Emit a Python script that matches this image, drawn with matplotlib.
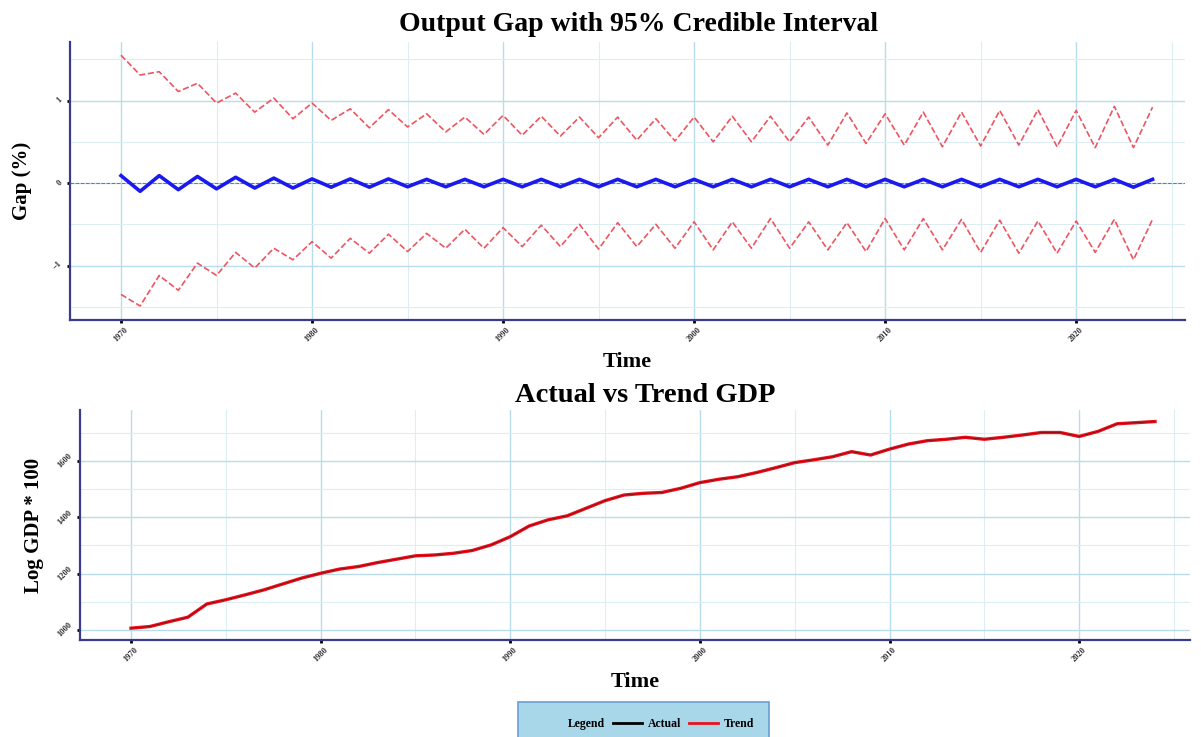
import numpy as np
import matplotlib
matplotlib.use('Agg')
import matplotlib.pyplot as plt
from matplotlib.lines import Line2D
from matplotlib.ticker import MultipleLocator

# data
years = list(range(1970, 2025))

gap = [0.09, -0.10, 0.09, -0.08, 0.08, -0.07, 0.07, -0.06, 0.06, -0.06,
       0.05, -0.05, 0.05, -0.05, 0.05, -0.045, 0.045, -0.045, 0.045, -0.045,
       0.045, -0.045, 0.045, -0.045, 0.045, -0.045, 0.045, -0.045, 0.045, -0.045,
       0.045, -0.045, 0.045, -0.045, 0.045, -0.045, 0.045, -0.045, 0.045, -0.045,
       0.045, -0.045, 0.045, -0.045, 0.045, -0.045, 0.045, -0.045, 0.045, -0.045,
       0.045, -0.045, 0.045, -0.05, 0.045]

upper = [1.55, 1.31, 1.35, 1.11, 1.21, 0.97, 1.09, 0.86, 1.03, 0.78,
         0.97, 0.76, 0.90, 0.67, 0.89, 0.68, 0.84, 0.62, 0.80, 0.59,
         0.82, 0.58, 0.81, 0.57, 0.80, 0.55, 0.80, 0.52, 0.78, 0.51,
         0.80, 0.50, 0.81, 0.50, 0.81, 0.50, 0.80, 0.46, 0.85, 0.48,
         0.84, 0.46, 0.86, 0.44, 0.86, 0.45, 0.88, 0.46, 0.89, 0.44,
         0.88, 0.43, 0.93, 0.43, 0.92]

lower = [-1.35, -1.49, -1.12, -1.30, -0.97, -1.12, -0.84, -1.03, -0.79, -0.93,
         -0.71, -0.91, -0.67, -0.85, -0.62, -0.83, -0.61, -0.79, -0.56, -0.79,
         -0.54, -0.77, -0.51, -0.77, -0.50, -0.80, -0.48, -0.77, -0.50, -0.79,
         -0.47, -0.81, -0.47, -0.79, -0.43, -0.79, -0.47, -0.81, -0.48, -0.83,
         -0.43, -0.81, -0.43, -0.81, -0.44, -0.84, -0.45, -0.85, -0.46, -0.85,
         -0.46, -0.84, -0.44, -0.93, -0.44]

trend_gdp = [1006, 1012, 1029, 1045, 1092, 1107, 1124, 1142, 1163, 1184,
             1201, 1216, 1225, 1239, 1251, 1263, 1266, 1272, 1282, 1302,
             1331, 1369, 1391, 1405, 1432, 1459, 1479, 1485, 1488, 1503,
             1523, 1535, 1544, 1559, 1576, 1594, 1604, 1615, 1633, 1621,
             1642, 1660, 1672, 1677, 1684, 1677, 1684, 1692, 1701, 1701,
             1687, 1705, 1732, 1736, 1740]
actual_gdp = trend_gdp  # actual sits right under the trend line

plt.rcParams['font.family'] = ['Liberation Serif', 'DejaVu Serif']
plt.rcParams['font.weight'] = 'bold'
plt.rcParams['axes.titleweight'] = 'bold'
plt.rcParams['axes.labelweight'] = 'bold'

axis_col = '#3b3b8c'
grid_major = '#b9dcea'
grid_minor = '#dcedf4'


def style_axes(ax, xmaj, ymaj, ymin):
    ax.set_facecolor('white')
    for s in ['top', 'right']:
        ax.spines[s].set_visible(False)
    for s in ['left', 'bottom']:
        ax.spines[s].set_color(axis_col)
        ax.spines[s].set_linewidth(1.6)
    ax.xaxis.set_major_locator(MultipleLocator(xmaj))
    ax.xaxis.set_minor_locator(MultipleLocator(xmaj / 2))
    ax.yaxis.set_major_locator(MultipleLocator(ymaj))
    ax.yaxis.set_minor_locator(MultipleLocator(ymin))
    ax.grid(which='major', color=grid_major, lw=1.0)
    ax.grid(which='minor', color=grid_minor, lw=0.8)
    ax.set_axisbelow(True)
    ax.tick_params(which='major', length=2.5, width=2, color='black', pad=2)
    ax.tick_params(which='minor', length=0)
    for lab in ax.get_xticklabels() + ax.get_yticklabels():
        lab.set_fontsize(6)
        lab.set_fontweight('bold')
        lab.set_color('#333333')
        lab.set_rotation(45)
    for lab in ax.get_xticklabels():
        lab.set_ha('center')
        lab.set_va('top')
    for lab in ax.get_yticklabels():
        lab.set_va('center')


fig = plt.figure(figsize=(12.01, 7.37), dpi=100)

# --- top panel: output gap
ax1 = fig.add_axes([0.0583, 0.5658, 0.9284, 0.3772])
ax1.axhline(0, color='#777777', ls='--', lw=0.7, zorder=2)
ax1.plot(years, upper, color='#ee5560', ls='--', lw=1.2, zorder=3)
ax1.plot(years, lower, color='#ee5560', ls='--', lw=1.2, zorder=3)
ax1.plot(years, gap, color='#1a1aee', lw=2.6, zorder=4)
ax1.set_xlim(1967.33, 2025.7)
ax1.set_ylim(-1.66, 1.71)
ax1.set_xticks(range(1970, 2030, 10))
ax1.set_yticks([-1, 0, 1])
style_axes(ax1, 10, 1, 0.5)
ax1.set_xlabel('Time', fontsize=16, fontweight='bold', labelpad=6)
ax1.set_ylabel('Gap (%)', fontsize=15, fontweight='bold', labelpad=14)

# --- bottom panel: actual vs trend
ax2 = fig.add_axes([0.0666, 0.1316, 0.9243, 0.3121])
ax2.plot(years, trend_gdp, color='#e8121e', lw=2.4, zorder=3)
ax2.plot(years, actual_gdp, color='#5a0000', lw=0.6, alpha=0.6, zorder=4)
ax2.set_xlim(1967.31, 2025.85)
ax2.set_ylim(964, 1781)
ax2.set_xticks(range(1970, 2030, 10))
ax2.set_yticks([1000, 1200, 1400, 1600])
style_axes(ax2, 10, 200, 100)
ax2.set_xlabel('Time', fontsize=16, fontweight='bold', labelpad=6)
ax2.set_ylabel('Log GDP * 100', fontsize=15, fontweight='bold', labelpad=9)

# titles as figure text so the bold weight is kept
fig.text(0.532, 0.967, 'Output Gap with 95% Credible Interval', fontsize=20,
         fontweight='bold', ha='center', va='center')
fig.text(0.537, 0.464, 'Actual vs Trend GDP', fontsize=20.5,
         fontweight='bold', ha='center', va='center')

# --- legend at the bottom
handles = [Line2D([], [], color='none'),
           Line2D([], [], color='black', lw=2),
           Line2D([], [], color='#e8121e', lw=2)]
labels = ['Legend', 'Actual', 'Trend']
leg = fig.legend(handles, labels, loc='upper center',
                 bbox_to_anchor=(0.536, 0.055),
                 ncol=3, frameon=True, handlelength=2.4,
                 columnspacing=0.7, handletextpad=0.5, borderpad=1.3,
                 prop={'weight': 'bold', 'size': 8.5})
frame = leg.get_frame()
frame.set_facecolor('#a9d7ea')
frame.set_edgecolor('#6b9fd0')
frame.set_linewidth(1.2)
frame.set_alpha(1)
frame.set_boxstyle('square', pad=0)

fig.savefig('out.png', dpi=100)
